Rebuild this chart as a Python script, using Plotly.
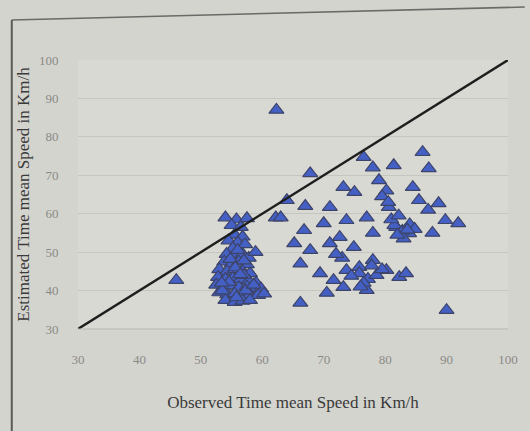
import plotly.graph_objects as go

# Observed (x) vs Estimated (y) time mean speed, km/h
obs_speed = [
    # left dense cluster
    54.0, 55.8, 57.5, 55.0, 56.5,
    55.5, 56.8, 54.5, 56.0, 57.2, 55.2,
    54.2, 55.5, 56.8, 57.8, 53.8, 55.0, 56.2, 57.5,
    53.0, 54.3, 55.5, 56.8, 58.0, 52.8, 54.0, 55.2, 56.5, 57.8, 59.0,
    52.5, 53.7, 55.0, 56.2, 57.5, 58.8, 59.8, 53.0, 54.3, 55.5, 56.8, 58.0, 59.3, 60.3,
    54.0, 55.5, 56.8, 58.0, 53.5, 57.0,
    54.8, 56.0, 57.0, 55.6, 56.4, 54.6, 57.3, 53.4, 58.6, 55.8,
    # outliers
    62.3, 46.0, 90.0, 58.9, 62.2,
    # right cloud
    67.8, 76.5, 78.0, 81.4, 86.1, 87.1, 73.2, 75.0, 79.0, 80.2, 84.5,
    63.0, 64.0, 67.0, 71.0, 66.8, 70.0, 73.7, 77.0, 80.6, 81.8, 83.9,
    87.0, 88.7, 89.8, 91.9, 87.7, 65.2, 67.8, 71.0, 72.6, 74.9, 78.0,
    66.2, 69.4, 71.6, 73.7, 75.8, 78.0, 80.2, 82.3, 83.4, 70.5, 73.2, 77.0, 66.2,
    # dense blue patches in right cloud
    81.5, 82.8, 84.0, 83.0, 81.0, 84.8, 82.2, 82.0, 83.6,
    75.8, 77.2, 78.6, 76.5, 79.5, 74.5, 77.8, 76.0,
    79.5, 80.5, 73.0, 72.0, 85.5,
]
est_speed = [
    59.0, 58.5, 58.8, 57.0, 56.5,
    54.5, 54.0, 53.0, 52.5, 52.0, 51.0,
    49.5, 49.0, 49.5, 48.5, 47.5, 47.0, 47.5, 46.8,
    45.5, 45.0, 45.5, 45.0, 44.5, 43.5, 43.0, 43.2, 43.0, 42.5, 42.0,
    41.5, 41.0, 41.3, 40.8, 41.0, 40.5, 40.5, 39.5, 39.0, 39.2, 38.8, 39.0, 38.8, 39.2,
    37.5, 37.0, 37.3, 37.5, 40.0, 44.0,
    48.2, 50.5, 47.8, 46.0, 44.2, 42.2, 40.0, 42.0, 41.5, 38.2,
    87.0, 42.7, 34.9, 50.0, 59.0,
    70.5, 74.7, 72.0, 72.6, 76.0, 71.8, 66.9, 65.6, 68.7, 66.0, 66.9,
    59.0, 63.5, 62.0, 61.7, 55.7, 57.5, 58.3, 59.0, 61.7, 56.5, 54.9,
    61.0, 62.7, 58.3, 57.5, 55.0, 52.3, 50.5, 52.3, 53.9, 51.3, 55.0,
    47.0, 44.5, 42.7, 45.3, 46.1, 47.9, 45.3, 43.5, 44.5, 39.4, 40.9, 40.1, 36.8,
    57.0, 55.5, 57.2, 53.5, 58.5, 56.0, 59.5, 54.5, 55.8,
    44.5, 43.0, 44.0, 42.0, 45.5, 43.8, 46.5, 41.0,
    64.5, 63.0, 48.5, 49.5, 63.5,
]

ref_line_x = [30, 100]
ref_line_y = [30, 100]

x_ticks = [30, 40, 50, 60, 70, 80, 90, 100]
y_ticks = [30, 40, 50, 60, 70, 80, 90, 100]

W, H = 530, 431
ML, MR, MT, MB = 78, 17, 60, 102
PW, PH = W - ML - MR, H - MT - MB


def px(xp):
    return (xp - ML) / PW


def py(yp):
    return (H - MB - yp) / PH


fig = go.Figure()
fig.add_trace(go.Scatter(
    x=obs_speed, y=est_speed, mode="markers",
    marker=dict(symbol="triangle-up", size=13, color="#4560c4",
                line=dict(color="#3d4468", width=1.2)),
    showlegend=False, cliponaxis=False,
))
fig.add_trace(go.Scatter(
    x=ref_line_x, y=ref_line_y, mode="lines",
    line=dict(color="#1e1e1e", width=2.4), showlegend=False,
))

serif = "Liberation Serif, Times New Roman, serif"
fig.update_layout(
    width=W, height=H,
    margin=dict(l=ML, r=MR, t=MT, b=MB),
    paper_bgcolor="#d4d4cf",
    plot_bgcolor="#d9d9d4",
    font=dict(family=serif, size=12, color="#8a8a86"),
    xaxis=dict(
        range=[30, 100], tickvals=x_ticks, ticktext=[str(v) for v in x_ticks],
        showgrid=False, zeroline=False, showline=False,
        ticks="outside", ticklen=18, tickcolor="rgba(0,0,0,0)",
        tickfont=dict(family=serif, size=13, color="#8a8a86"),
        title=dict(text="Observed Time mean Speed in Km/h", standoff=30,
                   font=dict(family=serif, size=17, color="#3a3a3a")),
    ),
    yaxis=dict(
        range=[30, 100], tickvals=y_ticks, ticktext=[str(v) for v in y_ticks],
        showgrid=True, gridcolor="#c6c6c1", gridwidth=1.2,
        zeroline=False, showline=False,
        ticks="outside", ticklen=16, tickcolor="rgba(0,0,0,0)",
        tickfont=dict(family=serif, size=13, color="#8a8a86"),
        title=dict(text="Estimated Time mean Speed in Km/h", standoff=4,
                   font=dict(family=serif, size=17, color="#3a3a3a")),
    ),
    shapes=[
        dict(type="line", xref="paper", yref="paper",
             x0=px(11), y0=py(20), x1=px(11), y1=py(431),
             line=dict(color="#5a5a58", width=2)),
        dict(type="line", xref="paper", yref="paper",
             x0=px(11), y0=py(20), x1=px(530), y1=py(7),
             line=dict(color="#6a6a68", width=1.5)),
        dict(type="line", xref="paper", yref="paper",
             x0=0, y0=0, x1=1, y1=0,
             line=dict(color="#b8b8b4", width=1)),
    ],
)

fig.write_html("out.html")
